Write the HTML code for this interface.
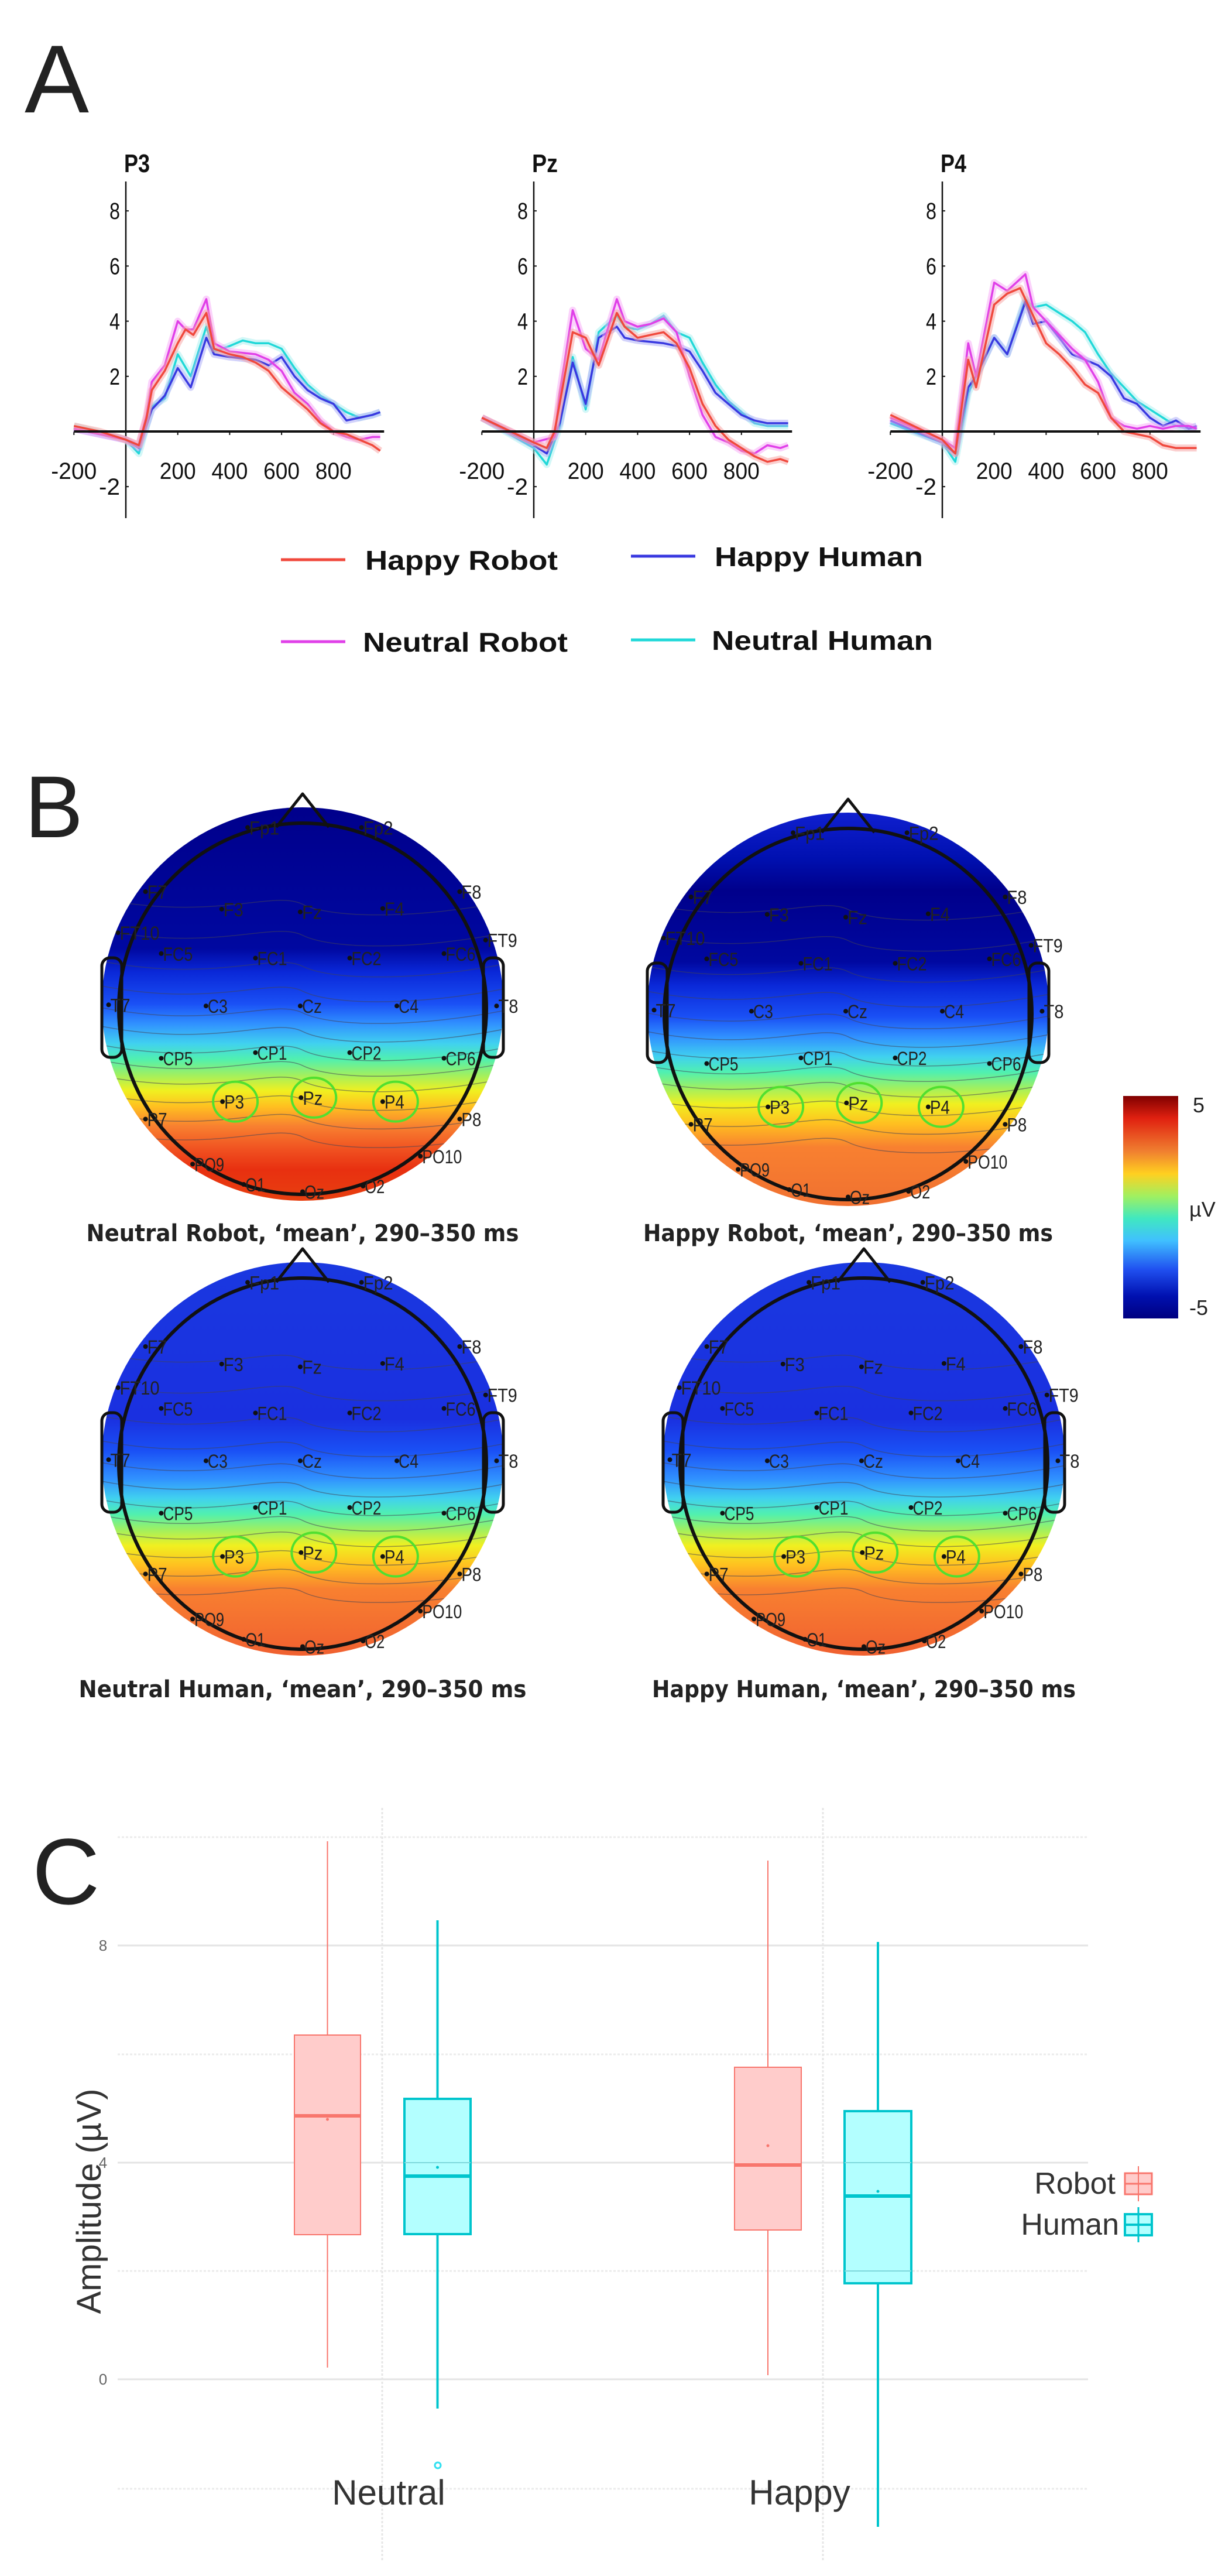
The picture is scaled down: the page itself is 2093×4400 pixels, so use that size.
<!DOCTYPE html>
<html><head><meta charset="utf-8"><style>
html,body{margin:0;padding:0;background:#fff;}
svg{display:block;}
.tk{font-family:"Liberation Sans",sans-serif;font-size:40px;fill:#111;}
.lg{font-family:"Liberation Sans",sans-serif;font-size:46px;font-weight:bold;fill:#111;}
.el{font-family:"Liberation Sans",sans-serif;font-size:32px;fill:#222;}
.cap{font-family:"DejaVu Sans",sans-serif;font-size:40px;font-weight:bold;fill:#222;}
</style></head><body>
<svg id="s" width="2093" height="4400" viewBox="0 0 2093 4400" xmlns="http://www.w3.org/2000/svg">
<defs>
<linearGradient id="g1" x1="0" y1="0" x2="0" y2="1">
<stop offset="0" stop-color="#00008b"/><stop offset="0.36" stop-color="#0008a0"/><stop offset="0.42" stop-color="#0a28d8"/><stop offset="0.5" stop-color="#1a50f5"/><stop offset="0.55" stop-color="#3090ff"/><stop offset="0.6" stop-color="#40d0f0"/><stop offset="0.64" stop-color="#50f0b0"/><stop offset="0.68" stop-color="#a0f060"/><stop offset="0.72" stop-color="#f0f020"/><stop offset="0.76" stop-color="#ffc020"/><stop offset="0.81" stop-color="#f88030"/><stop offset="0.87" stop-color="#f05020"/><stop offset="0.92" stop-color="#e83010"/><stop offset="1" stop-color="#e84010"/>
</linearGradient>
<linearGradient id="g2" x1="0" y1="0" x2="0" y2="1">
<stop offset="0" stop-color="#1020d0"/><stop offset="0.12" stop-color="#0010b0"/><stop offset="0.2" stop-color="#00008b"/><stop offset="0.38" stop-color="#0008a0"/><stop offset="0.44" stop-color="#0a28d8"/><stop offset="0.52" stop-color="#1a50f5"/><stop offset="0.57" stop-color="#3090ff"/><stop offset="0.62" stop-color="#40d0f0"/><stop offset="0.66" stop-color="#50f0b0"/><stop offset="0.7" stop-color="#a0f060"/><stop offset="0.74" stop-color="#f0f020"/><stop offset="0.79" stop-color="#ffc020"/><stop offset="0.85" stop-color="#f88030"/><stop offset="1" stop-color="#f07030"/>
</linearGradient>
<linearGradient id="g3" x1="0" y1="0" x2="0" y2="1">
<stop offset="0" stop-color="#1a38e0"/><stop offset="0.4" stop-color="#1a30e0"/><stop offset="0.48" stop-color="#1a50f5"/><stop offset="0.55" stop-color="#3090ff"/><stop offset="0.6" stop-color="#40d0f0"/><stop offset="0.64" stop-color="#50f0b0"/><stop offset="0.68" stop-color="#a0f060"/><stop offset="0.72" stop-color="#f0f020"/><stop offset="0.77" stop-color="#ffc020"/><stop offset="0.83" stop-color="#f88030"/><stop offset="1" stop-color="#f06030"/>
</linearGradient>
<linearGradient id="cb" x1="0" y1="0" x2="0" y2="1">
<stop offset="0" stop-color="#800000"/><stop offset="0.1" stop-color="#e02010"/><stop offset="0.25" stop-color="#f08030"/><stop offset="0.35" stop-color="#ffd020"/><stop offset="0.45" stop-color="#a0f060"/><stop offset="0.55" stop-color="#40e8c0"/><stop offset="0.65" stop-color="#40c0ff"/><stop offset="0.78" stop-color="#2050f0"/><stop offset="0.9" stop-color="#0010b0"/><stop offset="1" stop-color="#000080"/>
</linearGradient>
</defs>
<text x="42" y="192" font-family="Liberation Sans, sans-serif" font-size="165" fill="#222">A</text>
<text x="42" y="1430" font-family="Liberation Sans, sans-serif" font-size="150" fill="#222">B</text>
<text x="55" y="3252" font-family="Liberation Sans, sans-serif" font-size="160" fill="#222">C</text>
<g id="A"></g>
<g id="Bg"></g>
<g id="Cg"></g>
</svg>
<script>
var NS="http://www.w3.org/2000/svg";
function el(p,t,a,txt){var e=document.createElementNS(NS,t);for(var k in a)e.setAttribute(k,a[k]);if(txt!==undefined)e.textContent=txt;p.appendChild(e);return e;}
var A=document.getElementById('A');
var titles=['P3','Pz','P4'];
var data=[
{r:[[-200,.2],[-100,0],[0,-.3],[50,-.5],[80,.5],[100,1.5],[150,2.2],[200,3.2],[230,3.7],[260,3.5],[310,4.3],[340,3],[400,2.8],[450,2.7],[500,2.5],[550,2.2],[600,1.6],[650,1.2],[700,.8],[750,.3],[800,0],[850,-.1],[900,-.3],[950,-.5],[980,-.7]],
 m:[[-200,.1],[0,-.3],[50,-.5],[80,.6],[100,1.8],[150,2.4],[200,4],[230,3.7],[260,3.7],[310,4.8],[340,3.2],[400,2.9],[500,2.8],[550,2.6],[600,2.2],[650,1.4],[700,1],[750,.4],[800,0],[850,-.2],[900,-.3],[950,-.2],[980,-.2]],
 b:[[-200,.1],[0,-.3],[50,-.6],[100,.8],[150,1.3],[200,2.3],[250,1.6],[310,3.4],[340,2.8],[400,2.7],[500,2.6],[550,2.4],[600,2.7],[650,2],[700,1.5],[750,1.2],[800,1],[850,.4],[900,.5],[950,.6],[980,.7]],
 c:[[-200,.2],[0,-.3],[50,-.8],[100,.9],[150,1.2],[200,2.8],[250,2],[310,3.8],[340,2.9],[400,3.1],[450,3.3],[500,3.2],[550,3.2],[600,3],[650,2.3],[700,1.7],[750,1.3],[800,1],[850,.7],[900,.5],[950,.6],[980,.7]]},
{r:[[-200,.5],[0,-.4],[50,-.6],[80,0],[150,3.6],[200,3.4],[250,2.4],[320,4.3],[350,3.8],[400,3.4],[450,3.5],[500,3.6],[550,3.2],[600,2.3],[650,1],[700,.2],[750,-.3],[800,-.6],[850,-.9],[900,-1.1],[950,-1],[980,-1.1]],
 m:[[-200,.5],[0,-.4],[80,-.2],[100,1.4],[150,4.4],[200,3],[250,2.6],[320,4.8],[350,4],[400,3.8],[450,3.9],[500,4.1],[550,3.6],[600,2],[650,.6],[700,-.2],[750,-.4],[800,-.7],[850,-.8],[900,-.5],[950,-.6],[980,-.5]],
 b:[[-200,.5],[0,-.5],[50,-.8],[100,.3],[150,2.5],[200,1],[250,3.4],[320,3.8],[350,3.4],[400,3.3],[500,3.2],[550,3.1],[600,2.9],[650,2.2],[700,1.4],[750,1],[800,.6],[850,.4],[900,.3],[950,.3],[980,.3]],
 c:[[-200,.5],[0,-.6],[50,-1.2],[100,.2],[150,2.7],[200,.8],[250,3.6],[320,4.2],[350,3.8],[400,3.7],[450,3.9],[500,4.2],[550,3.6],[600,3.4],[650,2.5],[700,1.7],[750,1.1],[800,.7],[850,.3],[900,.2],[950,.2],[980,.2]]},
{r:[[-200,.6],[0,-.3],[50,-.8],[100,2.6],[130,1.6],[200,4.6],[250,5],[300,5.2],[350,4.2],[400,3.2],[450,2.8],[500,2.3],[550,1.7],[600,1.4],[650,.5],[700,0],[750,-.1],[800,-.2],[850,-.5],[900,-.6],[950,-.6],[980,-.6]],
 m:[[-200,.5],[0,-.3],[50,-.6],[100,3.2],[130,2],[200,5.4],[250,5.1],[320,5.7],[350,4.5],[400,4],[450,3.5],[500,3],[550,2.6],[600,1.8],[650,.5],[700,.2],[750,.1],[800,.2],[850,.1],[900,.2],[950,.2],[980,.1]],
 b:[[-200,.4],[0,-.4],[50,-.8],[100,1.6],[130,2],[200,3.4],[250,2.8],[320,4.7],[350,3.9],[400,4],[450,3.4],[500,2.8],[550,2.6],[600,2.4],[650,2],[700,1.2],[750,1],[800,.5],[850,.2],[900,.4],[950,.1],[980,.2]],
 c:[[-200,.3],[0,-.4],[50,-1.1],[100,1.4],[200,3.4],[250,2.8],[320,4.8],[350,4.5],[400,4.6],[450,4.3],[500,4],[550,3.6],[600,2.8],[650,2.1],[700,1.6],[750,1.1],[800,.8],[850,.5],[900,.2],[950,.1],[980,.1]]}
];
var cols={r:'#f0483c',m:'#e040e8',b:'#3838e0',c:'#20d8d8'};
var band={r:'#f8a0a0',m:'#f8a8f8',b:'#a8a8f8',c:'#a8f0f0'};
for(var p=0;p<3;p++){
  var ox=[215,912,1610][p];
  var X=function(t){return ox+t*0.4435;},Y=function(v){return 737-47.1*v;};
  el(A,'text',{x:ox-3,y:294,'font-family':'Liberation Sans, sans-serif','font-size':44,'font-weight':'bold',fill:'#111',textLength:44,lengthAdjust:'spacingAndGlyphs'},titles[p]);
  el(A,'line',{x1:ox,y1:310,x2:ox,y2:885,stroke:'#111','stroke-width':2.5});
  [8,6,4,2,-2].forEach(function(v){el(A,'line',{x1:ox,y1:Y(v),x2:ox+5,y2:Y(v),stroke:'#111','stroke-width':2});
    var w=v<0?36:18;
    el(A,'text',{x:ox-10-w,y:Y(v)+14,'class':'tk',textLength:w,lengthAdjust:'spacingAndGlyphs'},''+v);});
  [-200,200,400,600,800].forEach(function(t){el(A,'line',{x1:X(t),y1:737,x2:X(t),y2:743,stroke:'#111','stroke-width':2});
    var w=t<0?78:62;
    el(A,'text',{x:X(t)-w/2,y:818,'class':'tk',textLength:w,lengthAdjust:'spacingAndGlyphs'},''+t);});
  ['c','b','m','r'].forEach(function(k){
    var pts=data[p][k].map(function(q){return X(q[0]).toFixed(1)+','+Y(q[1]).toFixed(1);}).join(' ');
    el(A,'polyline',{points:pts,fill:'none',stroke:band[k],'stroke-width':12,'stroke-opacity':0.5,'stroke-linejoin':'round'});
    el(A,'polyline',{points:pts,fill:'none',stroke:cols[k],'stroke-width':3.5,'stroke-linejoin':'round'});
  });
  el(A,'line',{x1:X(-200),y1:737,x2:X(995),y2:737,stroke:'#111','stroke-width':4});
}
[[480,956,'#f0483c',624,'Happy Robot',329],[1078,950,'#3838e0',1221,'Happy Human',356],[480,1096,'#e040e8',620,'Neutral Robot',350],[1078,1093,'#20d8d8',1216,'Neutral Human',378]].forEach(function(a){
  el(A,'line',{x1:a[0],y1:a[1],x2:a[0]+110,y2:a[1],stroke:a[2],'stroke-width':5});
  el(A,'text',{x:a[3],y:a[1]+17,'class':'lg',textLength:a[5],lengthAdjust:'spacingAndGlyphs'},a[4]);
});
var B=document.getElementById('Bg');
var elec=[['Fp1',315,118],['Fp2',460,118],['F7',185,232],['F3',282,263],['Fz',382,268],['F4',487,262],['F8',585,232],['FT10',150,305],['FT9',618,318],['FC5',205,342],['FC1',325,350],['FC2',445,350],['FC6',565,342],['T7',138,433],['C3',262,435],['Cz',382,435],['C4',505,435],['T8',632,435],['CP5',205,528],['CP1',325,518],['CP2',445,518],['CP6',565,528],['P3',283,605],['Pz',383,598],['P4',487,605],['P7',185,636],['P8',585,636],['PO9',245,716],['PO10',535,702],['O1',310,752],['Oz',385,765],['O2',462,755]];
var heads=[[517,1723,'g1','Neutral  Robot, ‘mean’, 290–350 ms',2106,739],[1449,1732,'g2','Happy Robot, ‘mean’, 290–350 ms',2106,700],[517,2500,'g3','Neutral  Human, ‘mean’, 290–350 ms',2885,765],[1476,2500,'g3','Happy Human, ‘mean’, 290–350 ms',2885,724]];
heads.forEach(function(h,i){
  var cx=h[0],cy=h[1];
  var cid='clip'+i;
  var cp=el(B,'clipPath',{id:cid});
  el(cp,'ellipse',{cx:cx,cy:cy-8,rx:343,ry:336});
  el(B,'rect',{x:cx-345,y:cy-346,width:690,height:675,fill:'url(#'+h[2]+')','clip-path':'url(#'+cid+')'});
  var g=el(B,'g',{'clip-path':'url(#'+cid+')'});
  [0.05,0.15,0.25,0.33,0.4,0.46,0.52,0.57,0.62,0.68,0.74,0.8].forEach(function(f){
    var y=cy-200+f*530;
    el(g,'path',{d:'M'+(cx-350)+','+(y-15)+' C'+(cx-150)+','+(y+25)+' '+(cx-50)+','+(y-30)+' '+cx+','+(y-5)+' S'+(cx+200)+','+(y+20)+' '+(cx+350)+','+(y-10),fill:'none',stroke:'#445','stroke-width':1.5,'stroke-opacity':0.55});
  });
  el(B,'rect',{x:cx-343,y:cy-87,width:34,height:170,rx:14,fill:'none',stroke:'#111','stroke-width':5});
  el(B,'rect',{x:cx+309,y:cy-87,width:34,height:170,rx:14,fill:'none',stroke:'#111','stroke-width':5});
  el(B,'path',{d:'M'+(cx-45)+','+(cy-310)+' L'+cx+','+(cy-367)+' L'+(cx+45)+','+(cy-310),fill:'none',stroke:'#111','stroke-width':5,'stroke-linejoin':'round'});
  el(B,'ellipse',{cx:cx,cy:cy,rx:314,ry:317,fill:'none',stroke:'#111','stroke-width':6});
  elec.forEach(function(e){
    var x=cx+(e[1]-385)*1.342, y=cy+(e[2]-440)*0.9615;
    el(B,'circle',{cx:x,cy:y,r:4,fill:'#111'});
    el(B,'text',{x:x+3,y:y+12,'class':'el',textLength:e[0].length*17,lengthAdjust:'spacingAndGlyphs'},e[0]);
    if(e[0]=='P3'||e[0]=='Pz'||e[0]=='P4') el(B,'ellipse',{cx:x+22,cy:y,rx:38,ry:34,fill:'none',stroke:'#50e030','stroke-width':4});
  });
  el(B,'text',{x:cx-h[5]/2,y:h[4]+14,'class':'cap',textLength:h[5],lengthAdjust:'spacingAndGlyphs'},h[3]);
});
el(B,'rect',{x:1919,y:1872,width:94,height:380,fill:'url(#cb)'});
el(B,'text',{x:2038,y:1900,'font-family':'Liberation Sans, sans-serif','font-size':36,fill:'#222'},'5');
el(B,'text',{x:2032,y:2078,'font-family':'Liberation Sans, sans-serif','font-size':36,fill:'#222'},'µV');
el(B,'text',{x:2032,y:2246,'font-family':'Liberation Sans, sans-serif','font-size':36,fill:'#222'},'-5');
var C=document.getElementById('Cg');
[3138,3323,3509,3694,3879,4064,4251].forEach(function(y,i){el(C,'line',{x1:201,y1:y,x2:1859,y2:y,stroke:(i%2?'#e4e4e4':'#ebebeb'),'stroke-width':3,'stroke-dasharray':(i%2?'':'4,3')});});
[653,1406].forEach(function(x){el(C,'line',{x1:x,y1:3088,x2:x,y2:4375,stroke:'#e6e6e6','stroke-width':3,'stroke-dasharray':'4,3'});});
el(C,'text',{x:176,y:3332,'font-family':'Liberation Sans, sans-serif','font-size':26,fill:'#666','text-anchor':'middle'},'8');
el(C,'text',{x:176,y:4073,'font-family':'Liberation Sans, sans-serif','font-size':26,fill:'#666','text-anchor':'middle'},'0');
el(C,'text',{x:176,y:3703,'font-family':'Liberation Sans, sans-serif','font-size':26,fill:'#666','text-anchor':'middle'},'4');
el(C,'text',{x:0,y:0,transform:'translate(172,3760) rotate(-90)','text-anchor':'middle','font-family':'Liberation Sans, sans-serif','font-size':58,fill:'#333'},'Amplitude (µV)');
var boxes=[[503,616,3476,3817,3614,3145,4044,'#f8766d','#ffcccb',3620,2],[691,804,3585,3816,3717,3280,4114,'#00c5cd','#b3ffff',3702,4],[1255,1369,3531,3809,3698,3178,4057,'#f8766d','#ffcccb',3665,2],[1443,1557,3606,3900,3751,3317,4316,'#00c5cd','#b3ffff',3743,4]];
boxes.forEach(function(b){
  var c=(b[0]+b[1])/2;
  el(C,'line',{x1:c,y1:b[5],x2:c,y2:b[6],stroke:b[7],'stroke-width':b[10]});
  el(C,'rect',{x:b[0],y:b[2],width:b[1]-b[0],height:b[3]-b[2],fill:b[8],stroke:b[7],'stroke-width':b[10]});
  el(C,'line',{x1:b[0],y1:b[4],x2:b[1],y2:b[4],stroke:b[7],'stroke-width':6});
  el(C,'circle',{cx:c,cy:b[9],r:2.5,fill:b[7]});
});
el(C,'line',{x1:691,y1:3694,x2:804,y2:3694,stroke:'#7fd8dc','stroke-width':2});
el(C,'line',{x1:1443,y1:3694,x2:1557,y2:3694,stroke:'#7fd8dc','stroke-width':2});
el(C,'line',{x1:1443,y1:3879,x2:1557,y2:3879,stroke:'#7fd8dc','stroke-width':2});
el(C,'circle',{cx:748,cy:4211,r:5,fill:'none',stroke:'#30e0f0','stroke-width':3});
el(C,'text',{x:664,y:4278,'text-anchor':'middle','font-family':'Liberation Sans, sans-serif','font-size':60,fill:'#333'},'Neutral');
el(C,'text',{x:1366,y:4278,'text-anchor':'middle','font-family':'Liberation Sans, sans-serif','font-size':60,fill:'#333'},'Happy');
el(C,'text',{x:1906,y:3747,'text-anchor':'end','font-family':'Liberation Sans, sans-serif','font-size':52,fill:'#333'},'Robot');
el(C,'text',{x:1912,y:3817,'text-anchor':'end','font-family':'Liberation Sans, sans-serif','font-size':52,fill:'#333'},'Human');
el(C,'rect',{x:1922,y:3712,width:46,height:36,fill:'#ffcccb',stroke:'#f8766d','stroke-width':3});
el(C,'line',{x1:1945,y1:3700,x2:1945,y2:3760,stroke:'#f8766d','stroke-width':2});
el(C,'line',{x1:1922,y1:3730,x2:1968,y2:3730,stroke:'#f8766d','stroke-width':3});
el(C,'rect',{x:1922,y:3782,width:46,height:36,fill:'#b3ffff',stroke:'#00c5cd','stroke-width':4});
el(C,'line',{x1:1945,y1:3770,x2:1945,y2:3830,stroke:'#00c5cd','stroke-width':3});
el(C,'line',{x1:1922,y1:3800,x2:1968,y2:3800,stroke:'#00c5cd','stroke-width':4});
</script>
</body></html>
